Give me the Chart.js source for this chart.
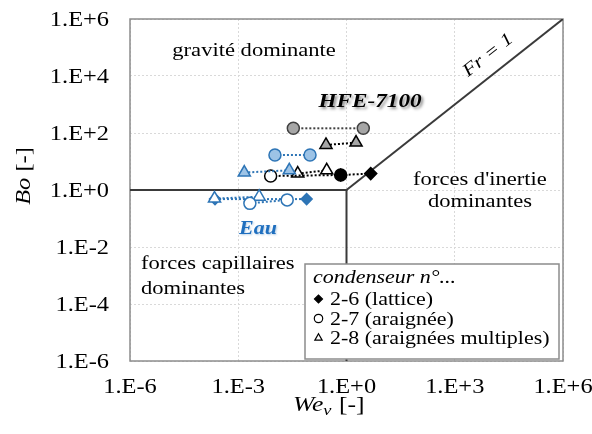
<!DOCTYPE html>
<html>
<head>
<meta charset="utf-8">
<script src="https://cdn.jsdelivr.net/npm/chart.js@4/dist/chart.umd.min.js"></script>
<style>
  body { margin: 0; background: #fff; }
</style>
</head>
<body>
<canvas id="myChart" width="592" height="434"></canvas>
<script>
// axes
const xTickVals = [1e-6, 1e-3, 1, 1e3, 1e6];
const xTickLabels = ['1.E-6', '1.E-3', '1.E+0', '1.E+3', '1.E+6'];
const yTickVals = [1e-6, 1e-4, 1e-2, 1, 1e2, 1e4, 1e6];
const yTickLabels = ['1.E-6', '1.E-4', '1.E-2', '1.E+0', '1.E+2', '1.E+4', '1.E+6'];

// HFE-7100
const hfe26We = [0.69, 4.69];
const hfe26Bo = [3.36, 3.76];
const hfe27We = [0.0079, 0.69];
const hfe27Bo = [3.1, 3.36];
const hfe28We = [0.0445, 0.283];
const hfe28Bo = [3.76, 4.9];
const hfe27gWe = [0.0336, 2.92];
const hfe27gBo = [146, 146];
const hfe28gWe = [0.27, 1.84];
const hfe28gBo = [38, 46];

// Eau
const eau26We = [0.000227, 0.0785];
const eau26Bo = [0.48, 0.48];
const eau27We = [0.0021, 0.0227];
const eau27Bo = [0.34, 0.45];
const eau28We = [0.00022, 0.0038];
const eau28Bo = [0.5, 0.58];
const eau27bWe = [0.0104, 0.0975];
const eau27bBo = [16.9, 16.9];
const eau28bWe = [0.00147, 0.026];
const eau28bBo = [4.1, 4.9];

// regime boundaries
const limWe = [1e-6, 1, 1];
const limBo = [1, 1, 1e-6];
const frWe = [1, 1e6];
const frBo = [1, 1e6];

const BLUE = '#2E75B6';
const LIGHTBLUE = '#9DC3E6';
const GREY = '#A6A6A6';
const SX = 1.22;
const SERIF = '"Liberation Serif", "Times New Roman", serif';

const pts = (we, bo) => we.map((w, i) => ({x: w, y: bo[i]}));

function serie(we, bo, style, fill, stroke, radius) {
  return {
    data: pts(we, bo),
    showLine: true,
    borderColor: stroke,
    borderWidth: 2,
    borderDash: [2, 2],
    pointStyle: style,
    pointRadius: radius,
    pointHoverRadius: radius,
    pointBackgroundColor: fill,
    pointBorderColor: stroke,
    pointBorderWidth: 1.5,
    order: 1
  };
}

// serif text drawn a little wider than normal
function wide(ctx, text, x, y, align) {
  const w = ctx.measureText(text).width * SX;
  const x0 = align === 'center' ? x - w / 2 : align === 'right' ? x - w : x;
  ctx.save();
  ctx.translate(x0, y);
  ctx.scale(SX, 1);
  ctx.textAlign = 'left';
  ctx.fillText(text, 0, 0);
  ctx.restore();
  return w;
}

const decor = {
  id: 'decor',
  beforeDatasetsDraw(chart) {
    const a = chart.chartArea, ctx = chart.ctx;
    ctx.save();
    ctx.strokeStyle = '#8c8c8c';
    ctx.lineWidth = 1.5;
    ctx.strokeRect(a.left, a.top, a.right - a.left, a.bottom - a.top);
    ctx.restore();
  },
  afterDatasetsDraw(chart) {
    const ctx = chart.ctx, xs = chart.scales.x, ys = chart.scales.y;
    const px = v => xs.getPixelForValue(v), py = v => ys.getPixelForValue(v);
    ctx.save();
    ctx.fillStyle = '#000';
    ctx.textBaseline = 'alphabetic';

    // tick labels
    ctx.font = '20px ' + SERIF;
    yTickVals.forEach((v, i) => wide(ctx, yTickLabels[i], 109, py(v) + 7, 'right'));
    xTickVals.forEach((v, i) => wide(ctx, xTickLabels[i], px(v), 393, 'center'));

    // axis titles
    ctx.save();
    ctx.translate(30, 176);
    ctx.rotate(-Math.PI / 2);
    ctx.font = 'italic 20px ' + SERIF;
    const bw = ctx.measureText('Bo').width;
    ctx.font = '20px ' + SERIF;
    const rw = ctx.measureText(' [-]').width;
    let x0 = -(bw + rw) * SX / 2;
    ctx.font = 'italic 20px ' + SERIF;
    x0 += wide(ctx, 'Bo', x0, 0, 'left');
    ctx.font = '20px ' + SERIF;
    wide(ctx, ' [-]', x0, 0, 'left');
    ctx.restore();

    let tx = 293;
    ctx.font = 'italic 21px ' + SERIF;
    tx += wide(ctx, 'We', tx, 411, 'left');
    ctx.font = 'italic 15px ' + SERIF;
    tx += wide(ctx, 'v', tx, 415, 'left');
    ctx.font = '21px ' + SERIF;
    wide(ctx, ' [-]', tx + 1, 411, 'left');

    // regime names
    ctx.font = '18.5px ' + SERIF;
    wide(ctx, 'gravité dominante', px(2.75e-3), py(4.9e4), 'center');
    wide(ctx, "forces d'inertie", px(5000), py(1.46), 'center');
    wide(ctx, 'dominantes', px(5000), py(0.247), 'center');
    wide(ctx, 'forces capillaires', px(2.02e-6), py(1.65e-3), 'left');
    wide(ctx, 'dominantes', px(2.02e-6), py(2.19e-4), 'left');

    // Fr = 1 along the diagonal
    const ang = Math.atan2(py(1e6) - py(1), px(1e6) - px(1));
    ctx.save();
    ctx.translate(px(8e3), py(5.8e4));
    ctx.rotate(ang);
    ctx.font = 'italic 18px ' + SERIF;
    wide(ctx, 'Fr = 1', 0, 6, 'center');
    ctx.restore();

    // fluid names
    ctx.save();
    ctx.font = 'italic bold 19px ' + SERIF;
    ctx.shadowColor = 'rgba(0,0,0,0.45)';
    ctx.shadowOffsetX = 2;
    ctx.shadowOffsetY = 2;
    ctx.shadowBlur = 3;
    wide(ctx, 'HFE-7100', px(4.5), py(815), 'center');
    ctx.fillStyle = '#1F6FBF';
    ctx.shadowColor = 'rgba(46,117,182,0.35)';
    ctx.shadowOffsetX = 1;
    ctx.shadowOffsetY = 1;
    ctx.shadowBlur = 2;
    ctx.font = 'italic bold 18px ' + SERIF;
    wide(ctx, 'Eau', px(3.53e-3), py(0.0279), 'center');
    ctx.restore();

    // legend box
    ctx.fillStyle = '#fff';
    ctx.fillRect(305, 264, 254, 95);
    ctx.strokeStyle = '#8c8c8c';
    ctx.lineWidth = 1.5;
    ctx.strokeRect(305, 264, 254, 95);
    ctx.fillStyle = '#000';
    ctx.font = 'italic 18px ' + SERIF;
    wide(ctx, 'condenseur n°...', 313, 283, 'left');
    ctx.font = '18px ' + SERIF;
    const rows = ['2-6 (lattice)', '2-7 (araignée)', '2-8 (araignées multiples)'];
    const marks = ['rectRot', 'circle', 'triangle'];
    rows.forEach((t, i) => {
      const yb = 305 + i * 19.5;
      wide(ctx, t, 330, yb, 'left');
      ctx.fillStyle = i === 0 ? '#000' : '#fff';
      ctx.strokeStyle = '#000';
      ctx.lineWidth = 1.2;
      Chart.helpers.drawPoint(ctx, {pointStyle: marks[i], radius: i === 0 ? 4 : 4.2, rotation: 0, borderWidth: 1.2}, 318.5, yb - 6);
      ctx.fillStyle = '#000';
    });
    ctx.restore();
  }
};

const ctx = document.getElementById('myChart');
new Chart(ctx, {
  type: 'scatter',
  data: {
    datasets: [
      {data: pts(limWe, limBo), showLine: true, borderColor: '#3a3a3a', borderWidth: 2, pointRadius: 0, order: 5},
      {data: pts(frWe, frBo), showLine: true, borderColor: '#3a3a3a', borderWidth: 2, pointRadius: 0, order: 5},
      serie(eau27bWe, eau27bBo, 'circle', LIGHTBLUE, BLUE, 6),
      serie(eau28bWe, eau28bBo, 'triangle', LIGHTBLUE, BLUE, 7),
      serie(eau27We, eau27Bo, 'circle', '#fff', BLUE, 6),
      serie(eau28We, eau28Bo, 'triangle', '#fff', BLUE, 7),
      serie(eau26We, eau26Bo, 'rectRot', BLUE, BLUE, 5.5),
      serie(hfe27gWe, hfe27gBo, 'circle', GREY, '#404040', 6),
      serie(hfe28gWe, hfe28gBo, 'triangle', GREY, '#000', 7),
      serie(hfe27We, hfe27Bo, 'circle', ['#fff', '#000'], '#000', 6),
      serie(hfe28We, hfe28Bo, 'triangle', '#fff', '#000', 7),
      serie(hfe26We, hfe26Bo, 'rectRot', '#000', '#000', 6)
    ]
  },
  options: {
    responsive: false,
    animation: false,
    layout: {padding: {left: 0, top: 19, right: 29, bottom: 0}},
    plugins: {legend: {display: false}, tooltip: {enabled: false}},
    scales: {
      x: {
        type: 'logarithmic',
        min: 1e-6,
        max: 1e6,
        afterBuildTicks: s => { s.ticks = xTickVals.map(v => ({value: v})); },
        afterFit: s => { s.height = 73; },
        ticks: {display: false},
        grid: {color: '#d9d9d9', lineWidth: 1, drawTicks: false},
        border: {display: false, dash: [2, 2]}
      },
      y: {
        type: 'logarithmic',
        min: 1e-6,
        max: 1e6,
        afterBuildTicks: s => { s.ticks = yTickVals.map(v => ({value: v})); },
        afterFit: s => { s.width = 130; },
        ticks: {display: false},
        grid: {color: '#d9d9d9', lineWidth: 1, drawTicks: false},
        border: {display: false, dash: [2, 2]}
      }
    }
  },
  plugins: [decor]
});
</script>
</body>
</html>
